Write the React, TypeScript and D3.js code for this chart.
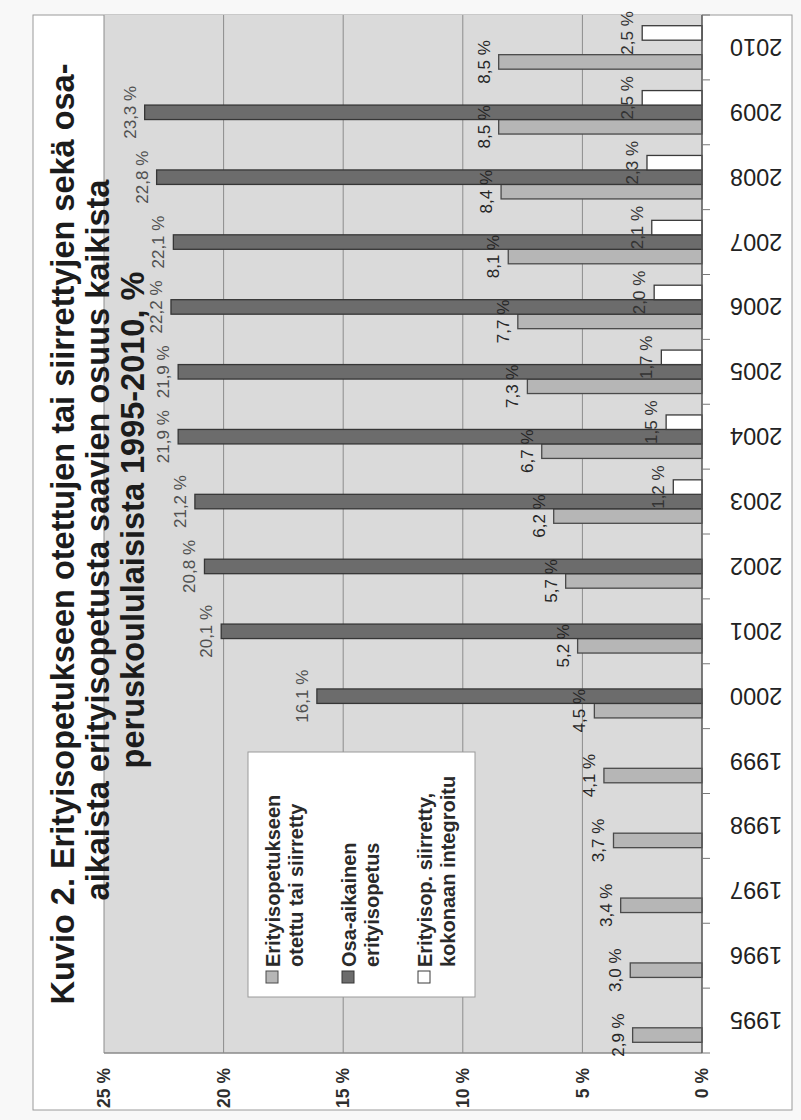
import React from 'react';
import * as d3 from 'd3';

// Vuodet ja sarjat (osuus kaikista peruskoululaisista, %)
const YEARS = ['1995', '1996', '1997', '1998', '1999', '2000', '2001', '2002', '2003', '2004', '2005', '2006', '2007', '2008', '2009', '2010'];
const OTETTU_TAI_SIIRRETTY = [2.9, 3.0, 3.4, 3.7, 4.1, 4.5, 5.2, 5.7, 6.2, 6.7, 7.3, 7.7, 8.1, 8.4, 8.5, 8.5];
const OSA_AIKAINEN = [null, null, null, null, null, 16.1, 20.1, 20.8, 21.2, 21.9, 21.9, 22.2, 22.1, 22.8, 23.3, null];
const KOKONAAN_INTEGROITU = [null, null, null, null, null, null, null, null, 1.2, 1.5, 1.7, 2.0, 2.1, 2.3, 2.5, 2.5];
const Y_TICKS = [0, 5, 10, 15, 20, 25];

const SERIES_KEYS = ['otettu', 'osa', 'integroitu'];
const SERIES_LABELS = [
  ['Erityisopetukseen', 'otettu tai siirretty'],
  ['Osa-aikainen', 'erityisopetus'],
  ['Erityisop. siirretty,', 'kokonaan integroitu'],
];
const TITLE_LINES = [
  'Kuvio 2. Erityisopetukseen otettujen tai siirrettyjen sekä osa-',
  'aikaista erityisopetusta saavien osuus kaikista',
  'peruskoululaisista 1995-2010, %',
];

const SERIES_VALUES = [OTETTU_TAI_SIIRRETTY, OSA_AIKAINEN, KOKONAAN_INTEGROITU];
const FILLS = ['#b6b6b6', '#6c6c6c', '#ffffff'];
const STROKES = ['#4a4a4a', '#363636', '#3a3a3a'];
const LABEL_COLORS = ['#262626', '#505050', '#333333'];

const FONT = "'Liberation Sans', Arial, Helvetica, sans-serif";

// The chart is laid out landscape (W x H) and then turned onto the portrait page.
const W = 1120;

const fmt = (v: number) => v.toFixed(1).replace('.', ',') + ' %';

export default function App() {
  const plot = { left: 67, right: 1105, top: 104, bottom: 702 };

  const x = d3
    .scaleBand<string>()
    .domain(YEARS)
    .range([plot.left, plot.right])
    .paddingInner(0.33)
    .paddingOuter(0.165);
  const xs = d3.scaleBand<string>().domain(SERIES_KEYS).range([0, x.bandwidth()]);
  const y = d3.scaleLinear().domain([0, 25]).range([plot.bottom, plot.top]);

  const step = x.step();
  const boundaries = d3.range(YEARS.length + 1).map((i) => plot.left + i * step);
  const titleCenters = [586, 580, 600];

  return (
    <svg
      width={801}
      height={1120}
      style={{ position: 'absolute', left: 0, top: 0, background: '#f8f8f8' }}
      fontFamily={FONT}
    >
      <rect x={0} y={0} width={801} height={1120} fill="#f8f8f8" />
      <g transform={`translate(0,${W}) rotate(-90)`}>
        {/* chart frame */}
        <rect x={10} y={33} width={1095} height={759} fill="#ffffff" stroke="#9a9a9a" strokeWidth={1} />

        {/* plot area */}
        <rect
          x={plot.left}
          y={plot.top}
          width={plot.right - plot.left}
          height={plot.bottom - plot.top}
          fill="#dadada"
        />
        {Y_TICKS.map((t) => (
          <line key={t} x1={plot.left} x2={plot.right} y1={y(t)} y2={y(t)} stroke="#8c8c8c" strokeWidth={1} />
        ))}
        <line x1={plot.left} x2={plot.left} y1={plot.top} y2={plot.bottom} stroke="#8a8a8a" strokeWidth={1.5} />

        {/* title */}
        {TITLE_LINES.map((t, i) => (
          <text
            key={t}
            x={titleCenters[i]}
            y={74 + i * 35}
            textAnchor="middle"
            fontSize={32.5}
            fontWeight="bold"
            fill="#1c1c1c"
          >
            {t}
          </text>
        ))}

        {/* value axis labels */}
        {Y_TICKS.map((t) => (
          <text
            key={'yt' + t}
            x={52}
            y={y(t)}
            dy="0.35em"
            textAnchor="end"
            fontSize={17.5}
            fontWeight="bold"
            fill="#2e2e2e"
          >
            {`${t} %`}
          </text>
        ))}

        {/* bars */}
        {SERIES_VALUES.map((vals, si) =>
          vals.map((v, i) =>
            v == null ? null : (
              <rect
                key={`b${si}-${i}`}
                x={(x(YEARS[i]) as number) + (xs(SERIES_KEYS[si]) as number)}
                y={y(v)}
                width={xs.bandwidth()}
                height={y(0) - y(v)}
                fill={FILLS[si]}
                stroke={STROKES[si]}
                strokeWidth={1.3}
              />
            )
          )
        )}

        {/* category axis */}
        <line x1={plot.left} x2={plot.right} y1={plot.bottom} y2={plot.bottom} stroke="#555" strokeWidth={1.3} />
        {boundaries.map((bx, i) => (
          <line key={'tk' + i} x1={bx} x2={bx} y1={plot.bottom} y2={plot.bottom + 8} stroke="#777" strokeWidth={1} />
        ))}
        {YEARS.map((yr) => {
          const cx = (x(yr) as number) + x.bandwidth() / 2;
          return (
            <text
              key={'yl' + yr}
              transform={`translate(${cx},730) rotate(-90)`}
              dy="0.36em"
              textAnchor="end"
              fontSize={23.5}
              fill="#222222"
            >
              {yr}
            </text>
          );
        })}

        {/* value labels */}
        {SERIES_VALUES.map((vals, si) =>
          vals.map((v, i) =>
            v == null ? null : (
              <text
                key={`l${si}-${i}`}
                x={(x(YEARS[i]) as number) + (xs(SERIES_KEYS[si]) as number) + xs.bandwidth() / 2}
                y={y(v) - 9}
                textAnchor="middle"
                fontSize={17}
                fill={LABEL_COLORS[si]}
              >
                {fmt(v)}
              </text>
            )
          )
        )}

        {/* legend */}
        <rect x={123} y={248} width={245} height={227} fill="#ffffff" stroke="#9a9a9a" strokeWidth={1} />
        {SERIES_LABELS.map((lines, i) => {
          const top = 266 + i * 76;
          return (
            <g key={'lg' + i}>
              <rect x={137} y={top} width={12} height={12} fill={FILLS[i]} stroke={STROKES[i]} strokeWidth={1} />
              {lines.map((ln, j) => (
                <text key={ln} x={153} y={top + 14 + j * 22.5} fontSize={20} fontWeight="bold" fill="#2a2a2a">
                  {ln}
                </text>
              ))}
            </g>
          );
        })}
      </g>
    </svg>
  );
}
